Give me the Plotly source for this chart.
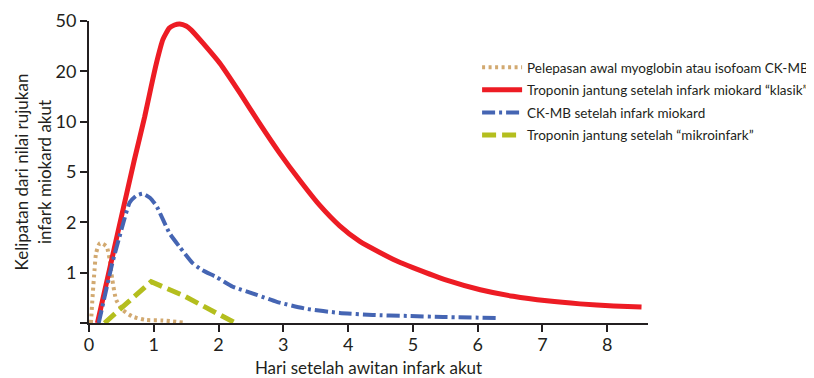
import plotly.graph_objects as go

# y axis is an ordinal (index) scale: 0 -> baseline, 1..6 -> 1,2,5,10,20,50
y_tick_pos = [0, 1, 2, 3, 4, 5, 6]
y_tick_text = ["", "1", "2", "5", "10", "20", "50"]
x_ticks = [0, 1, 2, 3, 4, 5, 6, 7, 8]

names = [
    "Pelepasan awal myoglobin atau isofoam CK-MB",
    "Troponin jantung setelah infark miokard “klasik”",
    "CK-MB setelah infark miokard",
    "Troponin jantung setelah “mikroinfark”",
]

days_myo = [0.03, 0.055, 0.085, 0.11, 0.17, 0.27, 0.32, 0.36, 0.42, 0.52, 0.67, 0.88, 1.14, 1.45]
myo = [0, 0.52, 1.05, 1.39, 1.59, 1.52, 1.25, 0.86, 0.46, 0.26, 0.13, 0.06, 0.05, 0.01]

days_trop = [0.13, 0.50, 0.70, 0.86, 0.96, 1.04, 1.14, 1.24, 1.32, 1.40, 1.50, 1.58, 1.76,
             2.02, 2.33, 2.63, 2.94, 3.25, 3.56, 3.87, 4.18, 4.49, 4.77, 5.00, 5.52, 6.04,
             6.55, 7.07, 7.58, 8.10, 8.53]
trop = [0, 2.11, 3.24, 4.10, 4.70, 5.16, 5.63, 5.86, 5.92, 5.94, 5.90, 5.82, 5.56,
        5.16, 4.57, 3.97, 3.38, 2.84, 2.34, 1.93, 1.62, 1.40, 1.22, 1.10, 0.85, 0.66,
        0.53, 0.44, 0.38, 0.34, 0.32]

days_ckmb = [0.15, 0.36, 0.47, 0.63, 0.73, 0.83, 0.94, 1.04, 1.24, 1.40, 1.60, 1.75, 1.97,
             2.22, 2.59, 2.90, 3.36, 3.87, 4.38, 4.91, 5.47, 6.28]
ckmb = [0, 1.19, 1.71, 2.40, 2.53, 2.57, 2.49, 2.33, 1.79, 1.51, 1.19, 1.05, 0.91,
        0.72, 0.56, 0.42, 0.28, 0.20, 0.16, 0.14, 0.12, 0.10]

days_micro = [0.24, 0.96, 1.45, 2.26]
micro = [0, 0.82, 0.55, 0]

FONT = "Lato"
TXT = "#231F20"

fig = go.Figure()
fig.add_trace(go.Scatter(x=days_myo, y=myo, name=names[0], mode="lines", legendgroup="a",
                         line=dict(color="#D2A970", width=4, dash="3px,3.5px", shape="spline", smoothing=0.6)))
fig.add_trace(go.Scatter(x=days_trop, y=trop, name=names[1], mode="lines", legendgroup="b",
                         line=dict(color="#ED1C24", width=5, shape="spline", smoothing=0.5)))
fig.add_trace(go.Scatter(x=days_ckmb, y=ckmb, name=names[2], mode="lines", legendgroup="c",
                         line=dict(color="#4565B3", width=4, dash="13px,4px,3px,4px", shape="spline", smoothing=0.5)))
fig.add_trace(go.Scatter(x=days_micro, y=micro, name=names[3], mode="lines", legendgroup="d",
                         line=dict(color="#B4BE1E", width=5, dash="14px,6px")))

fig.update_layout(
    width=806, height=370,
    margin=dict(l=81, r=166, t=13, b=55, autoexpand=False),
    paper_bgcolor="white", plot_bgcolor="white",
    font=dict(family=FONT, color=TXT),
    legend=dict(x=0.582, xref="container", y=0.881, yref="container", xanchor="left", yanchor="top",
                font=dict(size=13.5, family=FONT, color=TXT), tracegroupgap=2,
                bgcolor="rgba(0,0,0,0)", itemwidth=40),
    xaxis=dict(range=[0, 8.63], tickvals=x_ticks, showgrid=False, zeroline=False,
               showline=True, linecolor=TXT, linewidth=2, ticks="outside", ticklen=7,
               tickwidth=2, tickcolor=TXT, tickfont=dict(size=18, family=FONT, color=TXT),
               ticklabelstandoff=-3,
               title=dict(text="Hari setelah awitan infark akut", font=dict(size=17, family=FONT, color=TXT),
                          standoff=9)),
    yaxis=dict(range=[0, 6], tickvals=y_tick_pos, ticktext=y_tick_text, showgrid=False, zeroline=False,
               showline=True, linecolor=TXT, linewidth=2, ticks="outside", ticklen=7,
               tickwidth=2, tickcolor=TXT, tickfont=dict(size=18, family=FONT, color=TXT),
               title=dict(text="Kelipatan dari nilai rujukan<br>infark miokard akut",
                          font=dict(size=17, family=FONT, color=TXT), standoff=0)),
)

fig.write_html("out.html")
